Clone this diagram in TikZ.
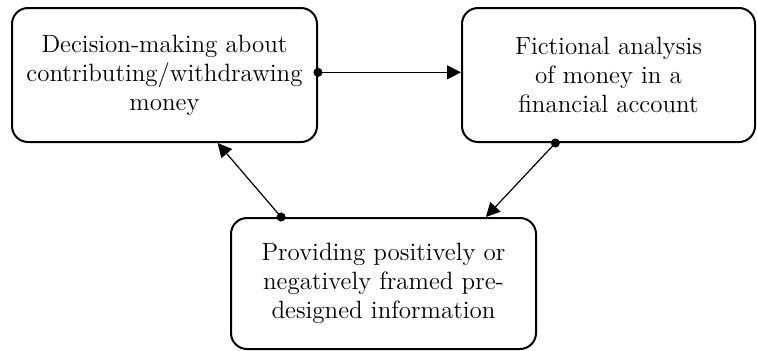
\documentclass[tikz,border=0pt]{standalone}
\usepackage{tikz}
\usetikzlibrary{arrows.meta}
\tikzset{
    stage/.style = {
        draw,
        shape=rectangle,
        rounded corners=8pt,
        align=center,
        inner sep=0pt,
        line width=1pt,
        font=\fontsize{12.5}{14.5}\selectfont
    },
    link/.style = {
        draw,
        line width=0.6pt,
        shorten <=-2.25pt,
        {Circle[length=4.5pt]}-{Triangle[length=7pt,width=7pt]}
    },
}

\begin{document}
\begin{tikzpicture}[x=0.5pt,y=-0.5pt]
            \useasboundingbox (0,0) rectangle (757,350);
            \node[stage, minimum width=152.5pt, minimum height=67pt] (decide) at (164.5,75)
                {Decision-making about\\contributing/withdrawing\\money};
            \node[stage, minimum width=146.5pt, minimum height=67pt] (analysis) at (608.5,75)
                {Fictional analysis\\of money in a\\financial account};
            \node[stage, minimum width=152.5pt, minimum height=65.5pt] (provide) at (383.5,283.5)
                {Providing positively or\\negatively framed pre-\\designed information};

            \path[link] (decide.1.5) -- (decide.1.5 -| analysis.west);
            \path[link] (analysis.232) -- (provide.33);
            \path[link] (provide.147) -- (decide.308);
        \end{tikzpicture}
\end{document}
